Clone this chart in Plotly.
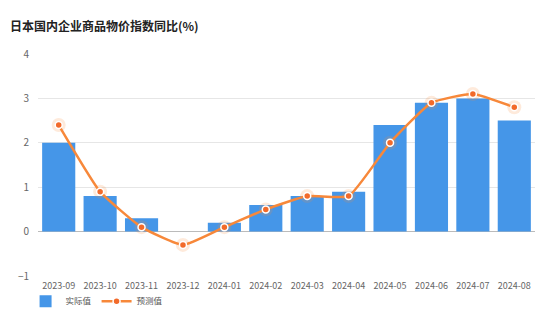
import plotly.graph_objects as go

categories = ["2023-09", "2023-10", "2023-11", "2023-12", "2024-01", "2024-02",
              "2024-03", "2024-04", "2024-05", "2024-06", "2024-07", "2024-08"]
actual = [2.0, 0.8, 0.3, 0.0, 0.2, 0.6, 0.8, 0.9, 2.4, 2.9, 3.0, 2.5]
forecast = [2.4, 0.9, 0.1, -0.3, 0.1, 0.5, 0.8, 0.8, 2.0, 2.9, 3.1, 2.8]
y_ticks = [-1, 0, 1, 2, 3, 4]

FONT = "Noto Sans CJK SC"
BLUE = "#4596e8"
ORANGE = "#f7883a"

fig = go.Figure()
fig.add_trace(go.Bar(x=categories, y=actual, name="实际值",
                     marker=dict(color=BLUE, line=dict(width=0))))
# glow
fig.add_trace(go.Scatter(x=categories, y=forecast, mode="markers", showlegend=False,
                         hoverinfo="skip",
                         marker=dict(size=14, color="rgba(247,136,58,0.18)", line=dict(width=0))))
fig.add_trace(go.Scatter(x=categories, y=forecast, name="预测值", mode="lines+markers",
                         line=dict(color=ORANGE, width=2.5, shape="spline", smoothing=0.45),
                         marker=dict(size=7, color="#f26a2a", line=dict(color="white", width=1.5))))

fig.update_layout(
    width=550, height=317,
    margin=dict(l=38, r=15, t=54, b=41, autoexpand=False),
    paper_bgcolor="white", plot_bgcolor="white",
    font=dict(family=FONT, size=10, color="#666"),
    bargap=0.2,
    title=dict(text="日本国内企业商品物价指数同比(%)", x=0.018, xanchor="left",
               y=0.915, yanchor="middle",
               font=dict(family=FONT, size=12, color="#222", weight="bold")),
    legend=dict(orientation="h", x=-0.025, xanchor="left", xref="paper",
                y=0.05, yanchor="middle", yref="container", bgcolor="rgba(0,0,0,0)",
                font=dict(size=8.5, color="#555"), itemwidth=30, traceorder="normal"),
    xaxis=dict(type="category", range=[-0.5, len(categories) - 0.5], showgrid=False,
               ticks="", showline=False, tickangle=0,
               ticklabelstandoff=3, tickfont=dict(size=9, color="#666")),
    yaxis=dict(range=[-1, 4], tickvals=y_ticks, showgrid=True, gridcolor="#e6e6e6",
               gridwidth=1, zeroline=True, zerolinecolor="#bbbbbb", zerolinewidth=1,
               ticks="", ticklabelstandoff=8, tickfont=dict(size=10, color="#666")),
)
fig.write_html("out.html")
